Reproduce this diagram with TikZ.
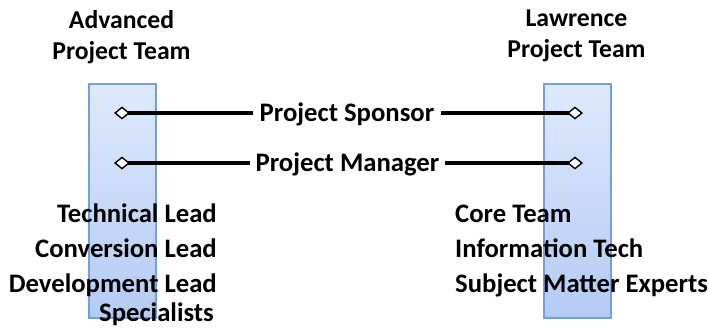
\documentclass[tikz,border=0pt]{standalone}
\usepackage{fontspec}
\setmainfont{Carlito}
\usetikzlibrary{arrows.meta}
\definecolor{barline}{RGB}{116,158,220}
\definecolor{bartop}{RGB}{222,233,252}
\definecolor{barbot}{RGB}{180,203,244}
\tikzstyle{team} = [draw=barline, line width=1.5pt, top color=bartop, bottom color=barbot, minimum width=67pt, minimum height=234pt, inner sep=0pt]
\tikzstyle{head} = [font=\fontsize{25.7}{31}\selectfont\bfseries, align=center, inner sep=0pt]
\tikzstyle{role} = [font=\fontsize{26.7}{30}\selectfont\bfseries, inner sep=0pt]
\tikzstyle{link} = [line width=3.2pt, -{Diamond[fill=white, length=16pt, width=13pt, line width=1.4pt]}]

\begin{document}
\begin{tikzpicture}[x=1pt,y=-1pt]

\useasboundingbox (0,0) rectangle (709,329);

% the two team bars
\node[team, anchor=north west] (advbar) at (88,83) {};
\node[team, anchor=north west] (lawbar) at (543,83) {};

\node[head, anchor=north] (advhead) at (121.5,10) {Advanced\\Project Team};
\node[head, anchor=north] (lawhead) at (576.5,10) {Lawrence\\Project Team};

% shared roles
\node[role, anchor=base, inner xsep=7pt] (sponsor) at (347,121) {Project Sponsor};
\node[role, anchor=base, inner xsep=5pt] (manager) at (347.5,171) {Project Manager};

\coordinate (sp-l) at (114,113);
\coordinate (sp-r) at (583,113);
\coordinate (pm-l) at (114,163);
\coordinate (pm-r) at (583,163);

\draw[link] (sponsor.west |- sp-l) -- (sp-l);
\draw[link] (sponsor.east |- sp-r) -- (sp-r);
\draw[link] (manager.west |- pm-l) -- (pm-l);
\draw[link] (manager.east |- pm-r) -- (pm-r);

% team members
\foreach \txt [count=\i] in {Technical Lead, Conversion Lead, Development Lead}
  \node[role, anchor=base east] (adv\i) at (217,187+35*\i) {\txt};
\node[role, anchor=base east] (adv4) at (214,321) {Specialists};

\foreach \txt [count=\i] in {Core Team, Information Tech, Subject Matter Experts}
  \node[role, anchor=base west] (law\i) at (455,187+35*\i) {\txt};

\end{tikzpicture}
\end{document}
